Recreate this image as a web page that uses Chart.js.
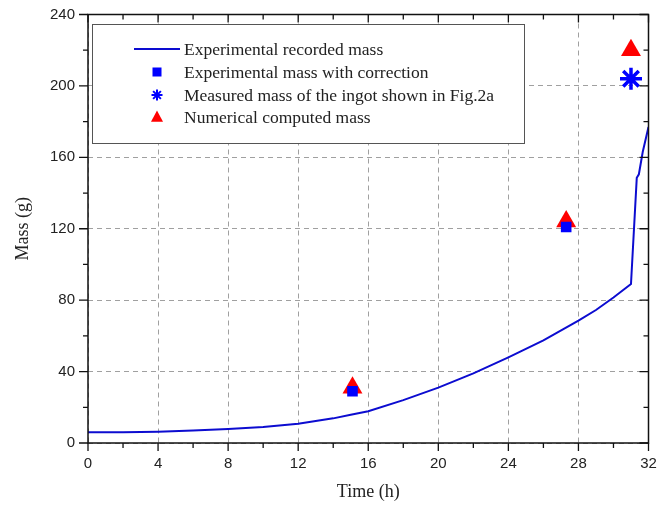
<!DOCTYPE html>
<html>
<head>
<meta charset="utf-8">
<script src="https://cdn.jsdelivr.net/npm/chart.js@4.4.1/dist/chart.umd.min.js"></script>
<style>
html,body{margin:0;padding:0;background:#fff;overflow:hidden;}
#wrap{width:660px;height:506px;position:relative;overflow:hidden;}
</style>
</head>
<body>
<div id="wrap"><canvas id="c" width="663" height="506"></canvas></div>
<script>
// ---- data ----
const curveTime = [0, 2, 4, 6, 8, 10, 12, 14, 15, 16, 18, 20, 22, 24, 26, 28, 29, 30, 31.0, 31.33, 31.45, 31.67, 32];
const curveMass = [6, 6, 6.3, 7, 7.8, 9, 10.8, 13.8, 15.8, 17.8, 24, 31, 39, 48, 57.5, 68.5, 74.5, 81.5, 89, 148.5, 150.5, 163, 177];
const corrTime = [15.1, 27.3];
const corrMass = [29, 121];
const ingotTime = [31.0];
const ingotMass = [204];
const numTime = [15.1, 27.3, 31.0];
const numMass = [31, 124, 220];
const xTicks = [0, 4, 8, 12, 16, 20, 24, 28, 32];
const yTicks = [0, 40, 80, 120, 160, 200, 240];
const seriesLabels = ['Experimental recorded mass', 'Experimental mass with correction', 'Measured mass of the ingot shown in Fig.2a', 'Numerical computed mass'];

const toXY = (xs, ys) => xs.map((x, i) => ({x: x, y: ys[i]}));

const LINE_BLUE = '#0c0cd0';
const BLUE = '#0000ff';
const RED = '#ff0000';
const SERIF = '"Liberation Serif", "Times New Roman", serif';
const SANS = '"Liberation Sans", Arial, sans-serif';

function drawMarker(ctx, type, x, y, s) {
  ctx.save();
  if (type === 'line') {
    ctx.strokeStyle = LINE_BLUE; ctx.lineWidth = 2;
    ctx.beginPath(); ctx.moveTo(x - 23, y); ctx.lineTo(x + 23, y); ctx.stroke();
  } else if (type === 'rect') {
    ctx.fillStyle = BLUE; ctx.fillRect(x - s/2, y - s/2, s, s);
  } else if (type === 'star') {
    ctx.strokeStyle = BLUE; ctx.lineWidth = 2;
    ctx.beginPath();
    for (let k = 0; k < 4; k++) {
      const a = k * Math.PI / 4;
      ctx.moveTo(x - Math.cos(a) * s/2, y - Math.sin(a) * s/2);
      ctx.lineTo(x + Math.cos(a) * s/2, y + Math.sin(a) * s/2);
    }
    ctx.stroke();
  } else if (type === 'tri') {
    ctx.fillStyle = RED;
    ctx.beginPath();
    ctx.moveTo(x, y - s*0.55); ctx.lineTo(x + s/2, y + s*0.4); ctx.lineTo(x - s/2, y + s*0.4);
    ctx.closePath(); ctx.fill();
  }
  ctx.restore();
}

const legendPlugin = {
  id: 'boxLegend',
  afterDatasetsDraw(chart) {
    const ctx = chart.ctx;
    ctx.save();
    ctx.fillStyle = '#fff';
    ctx.fillRect(92.5, 24.5, 432, 119);
    ctx.strokeStyle = '#555'; ctx.lineWidth = 1;
    ctx.strokeRect(92.5, 24.5, 432, 119);
    const types = ['line', 'rect', 'star', 'tri'];
    const sizes = [0, 9, 11, 12];
    const rows = [49, 72, 95, 117];
    ctx.font = '17.5px ' + SERIF;
    ctx.fillStyle = '#222';
    ctx.textBaseline = 'middle';
    ctx.textAlign = 'left';
    for (let i = 0; i < 4; i++) {
      drawMarker(ctx, types[i], 157, rows[i], sizes[i]);
      ctx.fillText(seriesLabels[i], 184, rows[i] + 1);
    }
    ctx.restore();
  }
};

const framePlugin = {
  id: 'frame',
  afterDraw(chart) {
    const ctx = chart.ctx;
    const a = chart.chartArea;
    const xs = chart.scales.x, ys = chart.scales.y;
    ctx.save();
    ctx.strokeStyle = '#111'; ctx.lineWidth = 1.5;
    ctx.strokeRect(a.left, a.top, a.right - a.left, a.bottom - a.top);
    ctx.lineWidth = 1.3;
    ctx.beginPath();
    for (let v = 0; v <= 32; v += 2) {
      const px = xs.getPixelForValue(v);
      const len = (v % 4 === 0) ? 8 : 5;
      ctx.moveTo(px, a.bottom); ctx.lineTo(px, a.bottom + len);
      ctx.moveTo(px, a.top); ctx.lineTo(px, a.top + len);
    }
    for (let v = 0; v <= 240; v += 20) {
      const py = ys.getPixelForValue(v);
      const len = (v % 40 === 0) ? 9 : 5;
      ctx.moveTo(a.left, py); ctx.lineTo(a.left - len, py);
      ctx.moveTo(a.right, py); ctx.lineTo(a.right - len, py);
    }
    ctx.stroke();
    ctx.restore();
  }
};

new Chart(document.getElementById('c'), {
  type: 'scatter',
  data: {
    datasets: [
      { label: seriesLabels[1], data: toXY(corrTime, corrMass), pointStyle: 'rect', radius: 7.5, backgroundColor: BLUE, borderColor: BLUE, borderWidth: 0, order: 0 },
      { label: seriesLabels[2], data: toXY(ingotTime, ingotMass), pointStyle: 'star', radius: 11, backgroundColor: BLUE, borderColor: BLUE, borderWidth: 3.5, order: 1 },
      { label: seriesLabels[3], data: toXY(numTime, numMass), pointStyle: 'triangle', radius: 11.5, backgroundColor: RED, borderColor: RED, borderWidth: 0, order: 2 },
      { label: seriesLabels[0], type: 'line', data: toXY(curveTime, curveMass), showLine: true, borderColor: LINE_BLUE, borderWidth: 2, pointRadius: 0, tension: 0, fill: false, order: 3 }
    ]
  },
  options: {
    responsive: false,
    animation: false,
    events: [],
    layout: { padding: { left: 0, right: 0, top: 11, bottom: 0 } },
    plugins: { legend: { display: false }, tooltip: { enabled: false } },
    scales: {
      x: {
        type: 'linear', min: 0, max: 32,
        afterBuildTicks(s) { s.ticks = xTicks.map(v => ({value: v})); },
        afterFit(s) { s.height = 63; s.paddingLeft = 0; s.paddingRight = 0; },
        border: { display: false, dash: [5, 4] },
        grid: { color: '#a0a0a0', lineWidth: 1, drawTicks: false },
        ticks: { padding: 12, color: '#222', font: { family: SANS, size: 15 } },
        title: { display: true, text: 'Time (h)', color: '#222', font: { family: SERIF, size: 18 }, padding: { top: 2, bottom: 3 } }
      },
      y: {
        type: 'linear', min: 0, max: 240,
        afterBuildTicks(s) { s.ticks = yTicks.map(v => ({value: v})); },
        afterFit(s) { s.width = 88; s.paddingTop = 0; s.paddingBottom = 0; },
        border: { display: false, dash: [5, 4] },
        grid: { color: '#a0a0a0', lineWidth: 1, drawTicks: false },
        ticks: { padding: 13, color: '#222', font: { family: SANS, size: 15 } },
        title: { display: true, text: 'Mass (g)', color: '#222', font: { family: SERIF, size: 18 }, padding: { top: 12, bottom: 0 } }
      }
    }
  },
  plugins: [legendPlugin, framePlugin]
});
</script>
</body>
</html>
